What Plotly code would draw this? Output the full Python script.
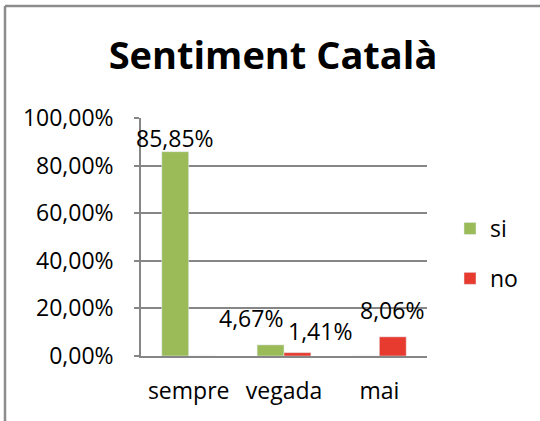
import plotly.graph_objects as go

categories = ["sempre", "vegada", "mai"]
si_values = [85.85, 4.67, 0]
no_values = [0, 1.41, 8.06]
tick_vals = [0, 20, 40, 60, 80, 100]
tick_labels = ["0,00%", "20,00%", "40,00%", "60,00%", "80,00%", "100,00%"]

def fmt(v):
    return ("%.2f%%" % v).replace(".", ",")

W, H = 540, 421
L, R, T, B = 141, 427, 118, 356
pw, ph = R - L, B - T

def px(x):
    return (x - L) / pw

def py(y):
    return (B - y) / ph

FONT = "Open Sans, sans-serif"
GREY = "#868686"
FS = 23

fig = go.Figure()
fig.add_bar(x=categories, y=si_values, name="si", marker_color="#9BBB59",
            cliponaxis=False, legendgroup="a")
fig.add_bar(x=categories, y=no_values, name="no", marker_color="#E63B2E",
            cliponaxis=False, legendgroup="b")

# label placement offsets (pixels), as Excel laid them out
label_shift = {
    ("si", "sempre"): (-14, -4),
    ("si", "vegada"): (-33, 9),
    ("no", "vegada"): (36, 4),
    ("no", "mai"): (13, 9),
}
for name, vals in (("si", si_values), ("no", no_values)):
    for cat, v in zip(categories, vals):
        if not v:
            continue
        dx, dy = label_shift[(name, cat)]
        fig.add_annotation(x=cat, y=v, xref="x", yref="y", text=fmt(v),
                           showarrow=False, xanchor="center", yanchor="bottom",
                           xshift=dx, yshift=dy, font=dict(size=FS, color="#000"))

fig.update_layout(
    width=W, height=H,
    margin=dict(l=L, r=W - R, t=T, b=H - B, pad=0),
    paper_bgcolor="white", plot_bgcolor="white",
    font=dict(family=FONT, size=FS, color="#000"),
    barmode="group", bargap=0.436, bargroupgap=0,
    title=dict(text="<b>Sentiment Català</b>", x=273 / W, xanchor="center",
               y=1 - 56 / H, yanchor="middle", font=dict(size=38, family=FONT)),
    legend=dict(x=px(450), xanchor="left", y=py(207), yanchor="top",
                tracegroupgap=17, font=dict(size=FS), bgcolor="rgba(0,0,0,0)"),
    xaxis=dict(type="category", range=[-0.5, len(categories) - 0.5],
               showline=True, linecolor=GREY, linewidth=1.5, ticks="",
               ticklabelstandoff=14, tickfont=dict(size=FS)),
    yaxis=dict(range=[0, 100], tickvals=tick_vals, ticktext=tick_labels,
               showgrid=True, gridcolor=GREY, gridwidth=1.5,
               showline=True, linecolor=GREY, linewidth=1.5,
               ticks="outside", ticklen=5, tickcolor=GREY, tickwidth=1.5,
               ticklabelstandoff=16, tickfont=dict(size=FS), zeroline=False),
    showlegend=True,
)

fig.add_shape(type="line", xref="paper", yref="paper", x0=px(5), x1=px(545),
              y0=py(6), y1=py(6), line=dict(color="#8c8c8c", width=2.5))
fig.add_shape(type="line", xref="paper", yref="paper", x0=px(5), x1=px(5),
              y0=py(6), y1=py(430), line=dict(color="#8c8c8c", width=2.5))

fig.write_html("out.html", config={"displayModeBar": False},
               post_script="document.body.style.margin='0';document.body.style.overflow='hidden';")
